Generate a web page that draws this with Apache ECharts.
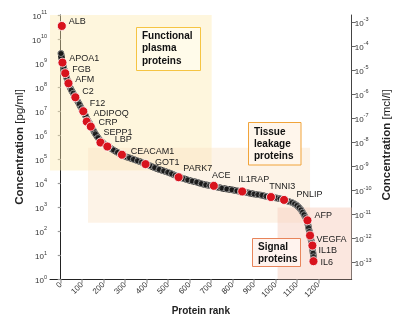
<!DOCTYPE html>
<html><head><meta charset="utf-8">
<script src="https://cdn.jsdelivr.net/npm/echarts@6/dist/echarts.min.js"></script>
<style>html,body{margin:0;padding:0;background:#fff}#c{width:399px;height:321px}</style>
</head><body><div id="c"></div>
<script>
// ---- data ----
// main ranked curve: protein rank and concentration in pg/ml
const curveRanks = [1,7,14,21,28,35,42,49,58,68,77,86,95,105,115,124,134,143,152,161,173,185,199,213,229,245,264,282,301,320,338,357,376,395,416,437,458,479,498,516,533,549,570,591,612,633,654,675,694,713,731,750,773,797,820,843,862,881,900,918,937,956,972,988,1005,1021,1035,1049,1063,1077,1089,1100,1110,1119,1126,1133,1140,1147,1151,1154,1158,1161,1165,1168,1171,1173,1175,1177,1178];
const curveConc = [2.5e9,1.1e9,6.3e8,4.0e8,2.4e8,1.5e8,1.05e8,7.6e7,5.6e7,4.0e7,2.8e7,2.0e7,1.4e7,1.0e7,6.6e6,4.4e6,3.2e6,2.2e6,1.6e6,1.15e6,8.0e5,5.9e5,4.6e5,3.6e5,3.0e5,2.45e5,1.95e5,1.55e5,1.3e5,1.15e5,1.0e5,8.7e4,7.6e4,6.5e4,5.4e4,4.5e4,3.8e4,3.3e4,2.9e4,2.5e4,2.15e4,1.85e4,1.6e4,1.4e4,1.25e4,1.12e4,9.8e3,8.7e3,8.1e3,7.6e3,6.9e3,6.3e3,5.8e3,5.4e3,4.9e3,4.5e3,4.2e3,3.9e3,3.6e3,3.4e3,3.2e3,2.9e3,2.75e3,2.6e3,2.45e3,2.3e3,2.1e3,1.9e3,1.75e3,1.6e3,1.4e3,1.2e3,980,790,630,500,380,280,200,145,100,68,48,35,24,17,12.6,8.9,6.3];
// highlighted proteins
const hlNames = ['ALB','APOA1','FGB','AFM','C2','F12','ADIPOQ','CRP','SEPP1','LBP','CEACAM1','GOT1','PARK7','ACE','IL1RAP','TNNI3','PNLIP','AFP','VEGFA','IL1B','IL6'];
const hlRanks = [5,8,21,36,68,105,121,140,185,217,285,395,549,713,845,979,1040,1149,1161,1172,1177];
const hlConc  = [3.5e10,1.05e9,3.8e8,1.45e8,3.8e7,1.0e7,3.7e6,2.3e6,5.0e5,3.4e5,1.55e5,6.3e4,1.8e4,7.9e3,4.6e3,2.7e3,2.05e3,2.9e2,68,26,5.8];
// axis ticks
const xTicks = [0,100,200,300,400,500,600,700,800,900,1000,1100,1200];
const leftExp = [0,1,2,3,4,5,6,7,8,9,10,11];
const rightExp = [-13,-12,-11,-10,-9,-8,-7,-6,-5,-4,-3];
// regions [rankFrom, rankTo, concFrom, concTo]
const regionFunctional = [-50, 703, 3.4e4, 1e11];
const regionTissue = [127, 1161, 2.3e2, 3.0e5];
const regionSignal = [1010, 1355, 1, 9.8e2];

// ---- styling (not data) ----
const labelOffsets = {
  ALB:[2,-4], APOA1:[2,-4.4], FGB:[2,-4], AFM:[2,-3.3], C2:[2,-5.6], F12:[1.5,-7.7],
  ADIPOQ:[2,-8.4], CRP:[2.8,-4], SEPP1:[-1.8,-10.2], LBP:[2.5,-6.7], CEACAM1:[4,-3.7],
  GOT1:[4.5,-2], PARK7:[-0.2,-9], ACE:[-6.8,-10], IL1RAP:[-8.8,-12.4], TNNI3:[-6.5,-10.6],
  PNLIP:[7.5,-5.3], AFP:[2.2,-5], VEGFA:[1.5,4], IL1B:[1.2,5], IL6:[2.2,1.6]
};
const FF = '"Liberation Sans", Arial, sans-serif';
const L = Math.log10;
const curveData = curveRanks.map((r,i)=>[r, L(curveConc[i])]);
const hlData = hlNames.map((n,i)=>({
  name:n, value:[hlRanks[i], L(hlConc[i])],
  label:{offset: labelOffsets[n]}
}));
const area = (a,color)=>[{xAxis:a[0], yAxis:L(a[2]), itemStyle:{color:color}},{xAxis:a[1], yAxis:L(a[3])}];
const supRich = {
  b:{fontSize:8, color:'#333', fontFamily:FF, lineHeight:11, verticalAlign:'bottom'},
  s:{fontSize:5.5, color:'#333', fontFamily:FF, lineHeight:11, verticalAlign:'top'}
};
const box = (x,y,w,h,fill,stroke,txt,tx,ty,lh)=>[
  {type:'rect', z:50, shape:{x:x, y:y, width:w, height:h}, style:{fill:fill, stroke:stroke, lineWidth:1}},
  {type:'text', z:51, x:tx, y:ty, style:{text:txt, font:'bold 10px '+FF, lineHeight:lh, fill:'#111'}}
];

const chart = echarts.init(document.getElementById('c'), null, {renderer:'canvas'});
chart.setOption({
  animation:false,
  grid:{left:50, right:47.3, top:15, bottom:41, containLabel:false},
  xAxis:{
    type:'value', min:-50, max:1355,
    axisLine:{lineStyle:{color:'#222', width:1}},
    axisTick:{show:true, length:4, lineStyle:{color:'#aaa', width:1.5}, customValues:xTicks},
    axisLabel:{rotate:45, fontSize:8, color:'#333', fontFamily:FF, margin:4, customValues:xTicks, formatter:v=>String(v)},
    splitLine:{show:false},
    name:'Protein rank', nameLocation:'middle', nameGap:26,
    nameTextStyle:{fontSize:10, fontWeight:'bold', color:'#222', fontFamily:FF}
  },
  yAxis:[{
    type:'value', min:0, max:11, interval:1, position:'left',
    axisLine:{show:true, lineStyle:{color:'#222', width:1}},
    axisTick:{show:true, length:3, lineStyle:{color:'#999', width:1.2}},
    axisLabel:{margin:3, formatter:v=>'{b|10}{s|'+v+'}', rich:supRich},
    splitLine:{show:false}
  },{
    type:'value', min:-13.7, max:-2.7, position:'right',
    axisLine:{show:true, lineStyle:{color:'#444', width:1}},
    axisTick:{show:true, length:4, lineStyle:{color:'#666', width:1}, customValues:rightExp},
    axisLabel:{margin:3, customValues:rightExp, formatter:v=>'{b|10}{s|'+Math.round(v)+'}', rich:supRich},
    splitLine:{show:false}
  }],
  graphic:[
    {type:'text', x:20, y:147, rotation:Math.PI/2, z:50,
     style:{text:'{b|Concentration} [pg/ml]', fontSize:11.5, fontFamily:FF, fill:'#222', align:'center', verticalAlign:'middle',
            rich:{b:{fontSize:11.5, fontWeight:'bold', fontFamily:FF, fill:'#222'}}}},
    {type:'text', x:387, y:145, rotation:Math.PI/2, z:50,
     style:{text:'{b|Concentration} [mcl/l]', fontSize:11.5, fontFamily:FF, fill:'#222', align:'center', verticalAlign:'middle',
            rich:{b:{fontSize:11.5, fontWeight:'bold', fontFamily:FF, fill:'#222'}}}}
  ].concat(
    box(136.5,27.5,64,43,'#fffbea','#f5c443','Functional\nplasma\nproteins',142,30,12.3),
    box(248.5,122.5,52.5,42.5,'#fff6ec','#f1a43a','Tissue\nleakage\nproteins',254,126.5,11.8),
    box(252.5,238.5,48,28,'#fff3ee','#e8845a','Signal\nproteins',258,241.5,11.8)
  ),
  series:[
    {type:'scatter', data:[], z:1, silent:true,
     markArea:{silent:true, itemStyle:{opacity:1}, data:[
       area(regionFunctional,'rgba(252,234,175,0.42)'),
       area(regionTissue,'rgba(251,226,196,0.4)'),
       area(regionSignal,'rgba(248,208,192,0.5)')
     ]}},
    {type:'line', data:curveData, z:3, symbol:'none', silent:true,
     lineStyle:{color:'#151515', width:6.5, cap:'round', join:'round'}},
    {type:'scatter', data:curveData, z:4, symbolSize:6, silent:true,
     itemStyle:{color:'#1a1a1a', borderColor:'#d8d8d8', borderWidth:0.7}},
    {type:'scatter', data:hlData, z:6, symbolSize:9, silent:true,
     itemStyle:{color:'#d8131d', borderColor:'#ffffff', borderWidth:0.8, opacity:1},
     label:{show:true, position:'right', distance:0, formatter:'{b}', fontSize:9, color:'#222', fontFamily:FF}}
  ]
});
</script></body></html>
